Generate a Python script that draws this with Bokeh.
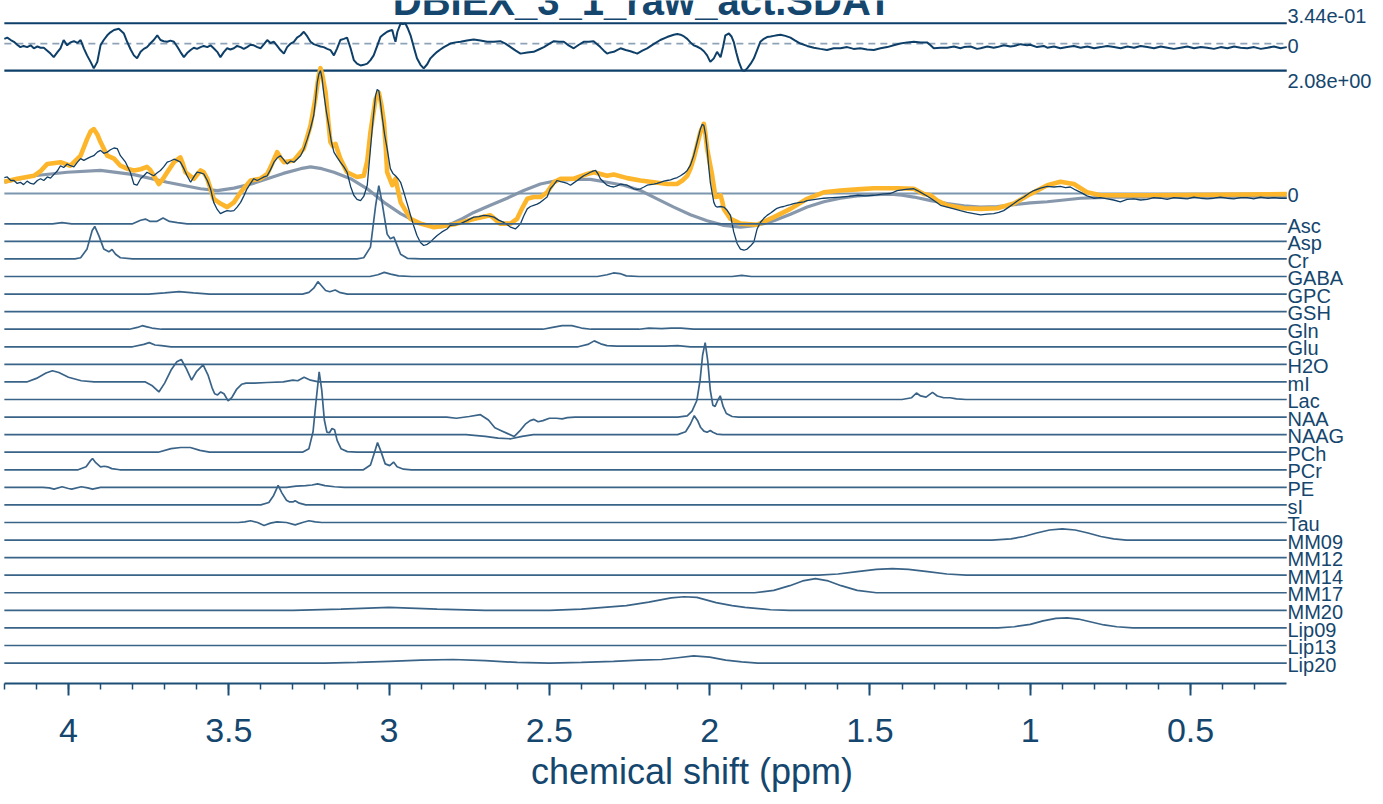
from bokeh.plotting import figure
from bokeh.models import Range1d, LinearAxis, SingleIntervalTicker
from bokeh.embed import file_html
from bokeh.resources import INLINE
from bokeh.core.properties import value

# ---------------- values ----------------
title_text = "DBIEX_3_1_raw_act.SDAT"
x_label = "chemical shift (ppm)"
tick_values = [4, 3.5, 3, 2.5, 2, 1.5, 1, 0.5]
tick_labels = ["4", "3.5", "3", "2.5", "2", "1.5", "1", "0.5"]

spec_max = 2.08       # label "2.08e+00"
res_max = 0.344       # label "3.44e-01"
res_min = -0.457

# measured spectrum (ppm, amplitude)
data = [(4.200, 0.27), (4.191, 0.28), (4.180, 0.22), (4.170, 0.22), (4.160, 0.17), (4.150, 0.19), (4.140, 0.15), (4.129, 0.21),
        (4.118, 0.17), (4.108, 0.16), (4.097, 0.22), (4.087, 0.25), (4.077, 0.22), (4.066, 0.28), (4.056, 0.26), (4.046, 0.32),
        (4.035, 0.38), (4.025, 0.47), (4.015, 0.44), (4.004, 0.50), (3.994, 0.47), (3.983, 0.45), (3.972, 0.53), (3.962, 0.59),
        (3.952, 0.56), (3.942, 0.59), (3.931, 0.62), (3.921, 0.64), (3.910, 0.70), (3.900, 0.73), (3.890, 0.68), (3.879, 0.70),
        (3.869, 0.74), (3.858, 0.77), (3.848, 0.76), (3.838, 0.64), (3.822, 0.53), (3.807, 0.36), (3.796, 0.16), (3.786, 0.14),
        (3.775, 0.25), (3.765, 0.30), (3.755, 0.36), (3.745, 0.33), (3.734, 0.30), (3.723, 0.35), (3.713, 0.39), (3.703, 0.45),
        (3.692, 0.53), (3.682, 0.55), (3.671, 0.58), (3.661, 0.56), (3.651, 0.53), (3.640, 0.42), (3.630, 0.30), (3.619, 0.19),
        (3.609, 0.28), (3.599, 0.36), (3.588, 0.35), (3.578, 0.33), (3.567, 0.22), (3.557, 0.08), (3.547, -0.15), (3.536, -0.27),
        (3.526, -0.34), (3.515, -0.31), (3.505, -0.29), (3.494, -0.30), (3.484, -0.29), (3.474, -0.23), (3.463, -0.15),
        (3.453, -0.04), (3.443, 0.08), (3.432, 0.17), (3.422, 0.25), (3.411, 0.22), (3.401, 0.25), (3.390, 0.28), (3.380, 0.30),
        (3.370, 0.40), (3.359, 0.53), (3.349, 0.60), (3.339, 0.64), (3.328, 0.57), (3.318, 0.50), (3.307, 0.55), (3.297, 0.53),
        (3.287, 0.58), (3.276, 0.64), (3.266, 0.75), (3.255, 0.92), (3.245, 1.10), (3.235, 1.32), (3.230, 1.55), (3.224, 1.88),
        (3.219, 2.02), (3.214, 2.08), (3.209, 1.95), (3.204, 1.71), (3.196, 1.40), (3.188, 1.15), (3.180, 0.88), (3.172, 0.70),
        (3.162, 0.61), (3.152, 0.53), (3.141, 0.45), (3.131, 0.36), (3.120, 0.12), (3.110, -0.03), (3.100, -0.10), (3.089, -0.12),
        (3.079, -0.05), (3.068, 0.14), (3.058, 0.76), (3.050, 1.25), (3.042, 1.66), (3.037, 1.76), (3.032, 1.74), (3.027, 1.55),
        (3.022, 1.32), (3.014, 1.00), (3.006, 0.76), (2.996, 0.42), (2.988, 0.34), (2.980, 0.30), (2.972, 0.25), (2.964, 0.19),
        (2.954, 0.02), (2.943, -0.18), (2.933, -0.37), (2.923, -0.55), (2.913, -0.71), (2.902, -0.83), (2.892, -0.88),
        (2.881, -0.86), (2.871, -0.82), (2.860, -0.76), (2.850, -0.71), (2.835, -0.65), (2.819, -0.60), (2.809, -0.54),
        (2.793, -0.53), (2.777, -0.51), (2.757, -0.46), (2.736, -0.40), (2.720, -0.39), (2.705, -0.37), (2.689, -0.38),
        (2.673, -0.40), (2.658, -0.45), (2.642, -0.49), (2.631, -0.53), (2.621, -0.57), (2.606, -0.60), (2.598, -0.56),
        (2.590, -0.51), (2.580, -0.38), (2.569, -0.26), (2.559, -0.22), (2.549, -0.20), (2.538, -0.18), (2.528, -0.15),
        (2.517, -0.10), (2.507, -0.06), (2.497, 0.08), (2.486, 0.15), (2.476, 0.22), (2.465, 0.20), (2.455, 0.19), (2.444, 0.17),
        (2.434, 0.14), (2.424, 0.18), (2.413, 0.22), (2.403, 0.26), (2.393, 0.30), (2.382, 0.33), (2.372, 0.36), (2.364, 0.38),
        (2.356, 0.39), (2.348, 0.33), (2.341, 0.25), (2.330, 0.19), (2.320, 0.14), (2.310, 0.12), (2.299, 0.11), (2.289, 0.13),
        (2.278, 0.16), (2.268, 0.15), (2.257, 0.14), (2.247, 0.11), (2.237, 0.08), (2.226, 0.07), (2.216, 0.08), (2.205, 0.11),
        (2.195, 0.14), (2.185, 0.15), (2.174, 0.16), (2.164, 0.17), (2.154, 0.19), (2.143, 0.21), (2.133, 0.22), (2.122, 0.23),
        (2.112, 0.25), (2.101, 0.27), (2.091, 0.30), (2.080, 0.34), (2.070, 0.39), (2.060, 0.48), (2.050, 0.64), (2.040, 0.85),
        (2.029, 1.09), (2.023, 1.17), (2.018, 1.15), (2.013, 1.00), (2.008, 0.76), (2.003, 0.45), (1.998, 0.19), (1.992, 0.00),
        (1.987, -0.15), (1.982, -0.21), (1.977, -0.23), (1.967, -0.22), (1.956, -0.23), (1.946, -0.28), (1.935, -0.37),
        (1.925, -0.65), (1.914, -0.85), (1.904, -0.94), (1.893, -0.96), (1.883, -0.94), (1.873, -0.89), (1.862, -0.82),
        (1.852, -0.60), (1.842, -0.49), (1.831, -0.42), (1.821, -0.37), (1.810, -0.33), (1.800, -0.29), (1.790, -0.25),
        (1.779, -0.23), (1.769, -0.22), (1.758, -0.20), (1.748, -0.19), (1.738, -0.17), (1.727, -0.16), (1.717, -0.15),
        (1.706, -0.14), (1.696, -0.12), (1.670, -0.10), (1.644, -0.08), (1.618, -0.07), (1.592, -0.06), (1.566, -0.05),
        (1.540, -0.03), (1.514, -0.04), (1.488, -0.03), (1.462, -0.01), (1.436, 0.00), (1.415, 0.05), (1.389, 0.07), (1.363, 0.08),
        (1.352, 0.05), (1.342, 0.02), (1.326, -0.03), (1.311, -0.08), (1.295, -0.14), (1.280, -0.20), (1.259, -0.23),
        (1.238, -0.26), (1.218, -0.29), (1.197, -0.32), (1.176, -0.34), (1.155, -0.36), (1.135, -0.35), (1.114, -0.34),
        (1.098, -0.32), (1.083, -0.29), (1.067, -0.23), (1.051, -0.17), (1.036, -0.11), (1.020, -0.06), (1.005, 0.00),
        (0.989, 0.05), (0.968, 0.09), (0.947, 0.12), (0.926, 0.11), (0.906, 0.12), (0.890, 0.10), (0.875, 0.11), (0.859, 0.06),
        (0.843, 0.02), (0.823, -0.04), (0.802, -0.08), (0.781, -0.07), (0.760, -0.09), (0.740, -0.11), (0.719, -0.14),
        (0.698, -0.10), (0.677, -0.09), (0.656, -0.11), (0.635, -0.10), (0.615, -0.07), (0.594, -0.08), (0.573, -0.10),
        (0.552, -0.07), (0.531, -0.08), (0.510, -0.09), (0.490, -0.06), (0.469, -0.08), (0.448, -0.09), (0.428, -0.08),
        (0.407, -0.06), (0.386, -0.08), (0.365, -0.09), (0.344, -0.07), (0.324, -0.07), (0.303, -0.09), (0.282, -0.06),
        (0.261, -0.08), (0.240, -0.07), (0.220, -0.08), (0.200, -0.08)]

# model fit
fit = [(4.200, 0.20), (4.160, 0.25), (4.108, 0.30), (4.087, 0.38), (4.066, 0.50), (4.025, 0.53), (3.994, 0.47), (3.962, 0.64),
       (3.942, 0.92), (3.931, 1.05), (3.921, 1.09), (3.910, 1.00), (3.900, 0.87), (3.879, 0.64), (3.858, 0.59), (3.838, 0.47),
       (3.817, 0.42), (3.796, 0.39), (3.775, 0.41), (3.755, 0.45), (3.745, 0.40), (3.734, 0.30), (3.718, 0.16), (3.705, 0.25),
       (3.692, 0.36), (3.671, 0.53), (3.651, 0.61), (3.643, 0.50), (3.635, 0.36), (3.609, 0.25), (3.588, 0.39), (3.578, 0.36),
       (3.567, 0.25), (3.557, 0.08), (3.547, -0.09), (3.526, -0.17), (3.505, -0.23), (3.484, -0.15), (3.463, 0.02),
       (3.432, 0.22), (3.401, 0.25), (3.380, 0.33), (3.365, 0.50), (3.349, 0.70), (3.338, 0.60), (3.328, 0.53), (3.297, 0.56),
       (3.266, 0.76), (3.245, 1.15), (3.230, 1.60), (3.220, 1.98), (3.214, 2.12), (3.208, 2.00), (3.198, 1.71), (3.190, 1.25),
       (3.183, 0.87), (3.175, 0.80), (3.167, 0.84), (3.160, 0.72), (3.152, 0.59), (3.131, 0.36), (3.100, 0.28), (3.079, 0.30),
       (3.068, 0.55), (3.058, 1.04), (3.042, 1.60), (3.032, 1.71), (3.024, 1.50), (3.016, 1.21), (3.010, 0.75), (3.006, 0.36),
       (2.990, 0.14), (2.985, 0.20), (2.980, 0.25), (2.972, 0.05), (2.964, -0.15), (2.933, -0.43), (2.902, -0.51),
       (2.860, -0.57), (2.819, -0.54), (2.788, -0.51), (2.736, -0.43), (2.684, -0.37), (2.653, -0.51), (2.621, -0.51),
       (2.601, -0.43), (2.585, -0.25), (2.569, -0.09), (2.549, -0.06), (2.528, -0.06), (2.507, 0.02), (2.486, 0.19),
       (2.465, 0.25), (2.424, 0.25), (2.382, 0.33), (2.361, 0.36), (2.341, 0.33), (2.320, 0.30), (2.299, 0.32), (2.257, 0.26),
       (2.216, 0.22), (2.174, 0.19), (2.133, 0.16), (2.102, 0.16), (2.085, 0.22), (2.070, 0.30), (2.060, 0.42), (2.050, 0.59),
       (2.040, 0.80), (2.029, 1.04), (2.018, 1.18), (2.013, 1.00), (2.008, 0.76), (1.999, 0.50), (1.992, 0.30), (1.982, -0.06),
       (1.974, -0.05), (1.966, -0.03), (1.960, -0.15), (1.956, -0.26), (1.935, -0.43), (1.904, -0.51), (1.852, -0.53),
       (1.800, -0.40), (1.748, -0.26), (1.696, -0.09), (1.644, 0.02), (1.592, 0.05), (1.540, 0.07), (1.488, 0.09),
       (1.436, 0.09), (1.415, 0.09), (1.363, 0.08), (1.332, -0.01), (1.311, -0.03), (1.290, -0.12), (1.259, -0.20),
       (1.207, -0.25), (1.155, -0.26), (1.103, -0.25), (1.051, -0.17), (1.000, -0.01), (0.947, 0.14), (0.906, 0.20),
       (0.864, 0.16), (0.823, 0.02), (0.781, -0.03), (0.739, -0.03), (0.635, -0.03), (0.428, -0.02), (0.200, -0.01)]

# fitted baseline
baseline = [(4.200, 0.19), (4.108, 0.30), (4.004, 0.36), (3.900, 0.39), (3.796, 0.32), (3.692, 0.19), (3.588, 0.08),
            (3.536, 0.05), (3.484, 0.09), (3.430, 0.16), (3.380, 0.25), (3.330, 0.34), (3.276, 0.42), (3.245, 0.45),
            (3.210, 0.42), (3.172, 0.36), (3.120, 0.25), (3.068, 0.08), (3.016, -0.15), (2.964, -0.34), (2.913, -0.49),
            (2.860, -0.57), (2.830, -0.56), (2.800, -0.50), (2.770, -0.42), (2.736, -0.32), (2.684, -0.20), (2.632, -0.08),
            (2.580, 0.05), (2.528, 0.16), (2.476, 0.22), (2.424, 0.24), (2.372, 0.24), (2.320, 0.19), (2.268, 0.14),
            (2.216, 0.05), (2.164, -0.09), (2.112, -0.23), (2.060, -0.36), (2.008, -0.46), (1.956, -0.54), (1.904, -0.57),
            (1.852, -0.54), (1.800, -0.46), (1.748, -0.35), (1.696, -0.23), (1.644, -0.14), (1.592, -0.08), (1.540, -0.04),
            (1.488, -0.02), (1.436, -0.01), (1.400, -0.03), (1.363, -0.06), (1.310, -0.12), (1.259, -0.17), (1.207, -0.21),
            (1.155, -0.23), (1.103, -0.22), (1.051, -0.19), (1.000, -0.16), (0.947, -0.14), (0.895, -0.11), (0.843, -0.08),
            (0.790, -0.07), (0.739, -0.06), (0.500, -0.06), (0.200, -0.06)]

# residual (data - fit)
residual = [(4.200, 0.08), (4.191, 0.10), (4.180, 0.06), (4.170, 0.03), (4.160, -0.02), (4.150, -0.06), (4.140, -0.04),
            (4.129, -0.06), (4.118, -0.03), (4.108, -0.08), (4.097, -0.05), (4.087, -0.07), (4.077, -0.07), (4.066, -0.12),
            (4.056, -0.17), (4.046, -0.23), (4.035, -0.15), (4.025, -0.08), (4.015, 0.06), (4.004, -0.03), (3.994, 0.02),
            (3.983, 0.04), (3.972, 0.01), (3.962, 0.06), (3.952, -0.08), (3.942, -0.20), (3.931, -0.31), (3.921, -0.42),
            (3.910, -0.31), (3.900, -0.03), (3.890, 0.06), (3.879, 0.14), (3.869, 0.19), (3.858, 0.23), (3.843, 0.25),
            (3.827, 0.17), (3.817, 0.03), (3.806, -0.10), (3.796, -0.20), (3.786, -0.25), (3.775, -0.14), (3.765, -0.09),
            (3.755, -0.06), (3.745, 0.00), (3.734, 0.06), (3.723, 0.14), (3.713, 0.06), (3.703, 0.04), (3.692, 0.03),
            (3.682, 0.05), (3.671, 0.03), (3.661, -0.05), (3.651, -0.14), (3.640, -0.23), (3.630, -0.16), (3.619, -0.11),
            (3.609, -0.07), (3.599, -0.09), (3.588, -0.06), (3.578, -0.04), (3.567, -0.06), (3.557, -0.03), (3.547, -0.08),
            (3.536, -0.14), (3.526, -0.23), (3.515, -0.14), (3.505, -0.08), (3.495, -0.10), (3.484, -0.08), (3.474, -0.04),
            (3.463, -0.06), (3.453, -0.09), (3.443, -0.06), (3.432, -0.02), (3.422, -0.03), (3.411, -0.06), (3.401, -0.08),
            (3.390, -0.01), (3.380, 0.06), (3.370, 0.01), (3.359, 0.03), (3.349, -0.04), (3.339, -0.11), (3.328, -0.17),
            (3.318, -0.06), (3.307, 0.00), (3.297, 0.03), (3.287, 0.10), (3.276, 0.14), (3.266, 0.20), (3.255, 0.12),
            (3.245, 0.03), (3.235, -0.01), (3.224, -0.03), (3.214, -0.05), (3.204, -0.06), (3.193, -0.09), (3.183, -0.11),
            (3.172, -0.20), (3.162, -0.08), (3.152, 0.06), (3.141, 0.08), (3.131, 0.10), (3.120, -0.08), (3.110, -0.28),
            (3.100, -0.34), (3.089, -0.37), (3.079, -0.36), (3.068, -0.34), (3.058, -0.28), (3.048, -0.20), (3.037, -0.04),
            (3.027, 0.11), (3.016, 0.16), (3.006, 0.20), (2.996, 0.22), (2.990, 0.23), (2.985, 0.12), (2.980, 0.03),
            (2.974, 0.20), (2.964, 0.34), (2.957, 0.33), (2.949, 0.34), (2.941, 0.25), (2.933, 0.14), (2.923, -0.06),
            (2.913, -0.25), (2.902, -0.36), (2.892, -0.42), (2.881, -0.35), (2.871, -0.25), (2.860, -0.19), (2.850, -0.14),
            (2.840, -0.10), (2.829, -0.06), (2.819, -0.03), (2.809, 0.00), (2.793, 0.02), (2.777, 0.03), (2.757, 0.05),
            (2.736, 0.07), (2.715, 0.05), (2.694, 0.03), (2.673, 0.03), (2.653, 0.04), (2.637, 0.00), (2.621, -0.06),
            (2.605, -0.12), (2.590, -0.17), (2.569, -0.15), (2.549, -0.14), (2.533, -0.10), (2.517, -0.06), (2.502, -0.01),
            (2.486, 0.04), (2.470, 0.03), (2.455, 0.03), (2.440, -0.03), (2.424, -0.08), (2.408, -0.02), (2.393, 0.03),
            (2.377, 0.03), (2.362, 0.04), (2.351, -0.01), (2.341, -0.06), (2.330, -0.12), (2.320, -0.17), (2.310, -0.15),
            (2.299, -0.14), (2.289, -0.11), (2.278, -0.08), (2.262, -0.11), (2.247, -0.13), (2.236, -0.15), (2.226, -0.17),
            (2.210, -0.12), (2.195, -0.08), (2.175, -0.01), (2.154, 0.06), (2.133, 0.11), (2.112, 0.15), (2.101, 0.16),
            (2.091, 0.15), (2.080, 0.12), (2.070, 0.08), (2.060, 0.02), (2.050, -0.03), (2.040, -0.05), (2.029, -0.08),
            (2.018, -0.13), (2.008, -0.20), (1.998, -0.31), (1.987, -0.25), (1.977, -0.14), (1.972, -0.18), (1.966, -0.23),
            (1.958, -0.05), (1.951, 0.14), (1.940, 0.17), (1.932, 0.12), (1.925, 0.03), (1.917, -0.15), (1.909, -0.31),
            (1.899, -0.45), (1.891, -0.46), (1.883, -0.42), (1.872, -0.34), (1.862, -0.25), (1.852, -0.11), (1.842, 0.03),
            (1.831, 0.08), (1.821, 0.11), (1.810, 0.12), (1.800, 0.13), (1.790, 0.14), (1.779, 0.15), (1.764, 0.13),
            (1.748, 0.10), (1.733, 0.05), (1.717, 0.00), (1.696, -0.04), (1.675, -0.07), (1.655, -0.09), (1.634, -0.11),
            (1.613, -0.08), (1.592, -0.08), (1.571, -0.06), (1.551, -0.09), (1.530, -0.08), (1.509, -0.10), (1.488, -0.11),
            (1.467, -0.08), (1.446, -0.06), (1.426, -0.03), (1.405, 0.00), (1.384, 0.02), (1.363, 0.03), (1.342, 0.02),
            (1.322, 0.02), (1.311, -0.03), (1.301, -0.08), (1.280, -0.07), (1.259, -0.07), (1.238, -0.05), (1.218, -0.08),
            (1.207, -0.06), (1.186, -0.05), (1.166, -0.09), (1.155, -0.08), (1.134, -0.05), (1.114, -0.07), (1.103, -0.06),
            (1.082, -0.03), (1.062, -0.05), (1.051, -0.04), (1.030, -0.01), (1.010, -0.03), (1.000, -0.02), (0.979, -0.06),
            (0.958, -0.04), (0.947, -0.07), (0.926, -0.05), (0.906, -0.08), (0.885, -0.06), (0.864, -0.04), (0.843, -0.07),
            (0.822, -0.05), (0.801, -0.08), (0.780, -0.06), (0.760, -0.04), (0.739, -0.06), (0.718, -0.08), (0.697, -0.05),
            (0.676, -0.07), (0.656, -0.04), (0.635, -0.06), (0.614, -0.08), (0.593, -0.05), (0.572, -0.07), (0.552, -0.09),
            (0.531, -0.07), (0.510, -0.05), (0.489, -0.08), (0.468, -0.06), (0.448, -0.07), (0.427, -0.09), (0.406, -0.06),
            (0.385, -0.08), (0.364, -0.05), (0.344, -0.07), (0.323, -0.08), (0.302, -0.06), (0.281, -0.09), (0.260, -0.07),
            (0.240, -0.05), (0.219, -0.08), (0.200, -0.06)]

# individual fitted components (ppm, amplitude)
asc = [(4.2, 0), (4.05, 0), (4.02, 0.02), (3.99, 0), (3.80, 0), (3.775, 0.06), (3.76, 0.08), (3.745, 0.04), (3.725, 0.04),
       (3.705, 0.10), (3.685, 0.04), (3.66, 0.02), (3.63, 0), (0.2, 0)]
asp = [(4.2, 0), (0.2, 0)]
cr = [(4.2, 0), (3.98, 0), (3.962, 0.02), (3.942, 0.17), (3.926, 0.48), (3.918, 0.55), (3.905, 0.39), (3.890, 0.17),
      (3.874, 0.12), (3.864, 0.16), (3.853, 0.08), (3.838, 0.02), (3.80, 0), (3.10, 0), (3.079, 0.02), (3.058, 0.20),
      (3.042, 0.90), (3.032, 1.24), (3.022, 0.96), (3.006, 0.42), (2.996, 0.34), (2.985, 0.37), (2.975, 0.23), (2.964, 0.08),
      (2.943, 0.01), (2.90, 0), (0.2, 0)]
gaba = [(4.2, 0), (3.06, 0), (3.035, 0.03), (3.015, 0.07), (2.995, 0.04), (2.97, 0.01), (2.93, 0), (2.35, 0), (2.32, 0.03),
        (2.30, 0.06), (2.28, 0.05), (2.26, 0.01), (2.22, 0), (1.93, 0), (1.90, 0.02), (1.87, 0), (0.2, 0)]
gpc = [(4.2, 0), (3.75, 0), (3.70, 0.02), (3.655, 0.04), (3.61, 0.02), (3.56, 0), (3.27, 0), (3.25, 0.03), (3.235, 0.10),
       (3.222, 0.21), (3.212, 0.15), (3.198, 0.06), (3.185, 0.04), (3.168, 0.07), (3.155, 0.03), (3.13, 0), (0.2, 0)]
gsh = [(4.2, 0), (0.2, 0)]
gln = [(4.2, 0), (3.81, 0), (3.785, 0.03), (3.77, 0.06), (3.755, 0.04), (3.74, 0.02), (3.71, 0), (2.52, 0), (2.49, 0.03),
       (2.46, 0.06), (2.43, 0.06), (2.40, 0.02), (2.37, 0), (2.22, 0), (2.19, 0.02), (2.15, 0.01), (2.12, 0.02),
       (2.09, 0.02), (2.05, 0), (0.2, 0)]
glu = [(4.2, 0), (3.80, 0), (3.765, 0.04), (3.748, 0.07), (3.73, 0.03), (3.71, 0.02), (3.68, 0), (2.41, 0), (2.38, 0.04),
       (2.36, 0.10), (2.34, 0.05), (2.32, 0.02), (2.29, 0.01), (2.14, 0.01), (2.10, 0.02), (2.06, 0), (0.2, 0)]
h2o = [(4.2, 0), (0.2, 0)]
mi = [(4.2, 0), (4.13, 0), (4.10, 0.06), (4.07, 0.15), (4.05, 0.19), (4.03, 0.16), (4.00, 0.08), (3.96, 0.02), (3.92, 0),
      (3.76, 0), (3.74, -0.06), (3.718, -0.17), (3.70, -0.02), (3.68, 0.20), (3.662, 0.34), (3.648, 0.38), (3.632, 0.22),
      (3.616, 0.03), (3.60, 0.18), (3.58, 0.29), (3.565, 0.12), (3.552, -0.10), (3.544, -0.20), (3.535, -0.22),
      (3.525, -0.17), (3.515, -0.20), (3.502, -0.32), (3.49, -0.26), (3.475, -0.12), (3.46, -0.04), (3.446, -0.02),
      (3.42, -0.02), (3.38, -0.01), (3.33, 0.0), (3.30, 0.03), (3.285, 0.02), (3.265, 0.08), (3.245, 0.03), (3.22, 0.0),
      (0.2, 0)]
lac = [(4.2, 0), (1.40, 0), (1.37, 0.03), (1.355, 0.11), (1.342, 0.06), (1.325, 0.04), (1.305, 0.12), (1.29, 0.06),
       (1.27, 0.03), (1.25, 0.03), (1.23, 0.01), (1.20, 0), (0.2, 0)]
naa = [(4.2, 0), (2.82, 0), (2.79, -0.02), (2.75, 0.01), (2.715, 0.04), (2.69, -0.05), (2.67, -0.18), (2.65, -0.23),
       (2.63, -0.28), (2.61, -0.33), (2.59, -0.22), (2.575, -0.12), (2.56, -0.06), (2.548, -0.04), (2.535, -0.08),
       (2.52, -0.06), (2.50, -0.02), (2.478, -0.02), (2.46, -0.03), (2.444, -0.01), (2.42, 0), (2.10, 0), (2.07, 0.02),
       (2.055, 0.10), (2.04, 0.28), (2.03, 0.62), (2.022, 1.05), (2.014, 1.26), (2.006, 0.95), (1.998, 0.45), (1.99, 0.20),
       (1.983, 0.18), (1.975, 0.28), (1.967, 0.36), (1.958, 0.18), (1.948, 0.06), (1.93, 0.01), (1.91, 0), (0.2, 0)]
naag = [(4.2, 0), (2.76, 0), (2.70, -0.03), (2.66, -0.06), (2.62, -0.07), (2.585, -0.03), (2.55, 0), (2.10, 0),
        (2.075, 0.05), (2.06, 0.18), (2.048, 0.32), (2.038, 0.24), (2.028, 0.12), (2.018, 0.06), (2.008, 0.04),
        (1.998, 0.07), (1.99, 0.04), (1.978, 0.01), (1.96, 0), (0.2, 0)]
pch = [(4.2, 0), (3.72, 0), (3.68, 0.06), (3.65, 0.08), (3.62, 0.08), (3.59, 0.03), (3.56, 0), (3.27, 0), (3.25, 0.06),
       (3.237, 0.35), (3.228, 0.85), (3.218, 1.36), (3.21, 1.05), (3.202, 0.55), (3.194, 0.34), (3.186, 0.33),
       (3.178, 0.40), (3.17, 0.38), (3.162, 0.20), (3.15, 0.06), (3.13, 0.01), (3.10, 0), (0.2, 0)]
pcr = [(4.2, 0), (3.97, 0), (3.945, 0.05), (3.932, 0.15), (3.925, 0.19), (3.915, 0.12), (3.90, 0.05), (3.888, 0.06),
       (3.878, 0.05), (3.865, 0.02), (3.84, 0), (3.08, 0), (3.058, 0.08), (3.045, 0.30), (3.036, 0.46), (3.026, 0.32),
       (3.012, 0.10), (2.998, 0.07), (2.986, 0.13), (2.975, 0.05), (2.955, 0.01), (2.93, 0), (0.2, 0)]
pe = [(4.2, 0), (4.08, 0), (4.06, -0.01), (4.045, -0.03), (4.02, 0.01), (4.00, -0.02), (3.99, -0.03), (3.96, 0.01),
      (3.94, -0.01), (3.925, -0.03), (3.90, 0.0), (3.86, 0), (3.32, 0), (3.29, 0.02), (3.26, 0.03), (3.24, 0.04),
      (3.223, 0.06), (3.20, 0.03), (3.17, 0.01), (3.14, 0), (0.2, 0)]
si = [(4.2, 0), (3.40, 0), (3.375, 0.04), (3.36, 0.16), (3.346, 0.33), (3.334, 0.20), (3.32, 0.08), (3.31, 0.05),
      (3.30, 0.05), (3.293, 0.07), (3.28, 0.03), (3.26, 0), (0.2, 0)]
tau = [(4.2, 0), (3.47, 0), (3.45, 0.01), (3.432, 0.03), (3.41, 0.0), (3.39, -0.05), (3.37, -0.01), (3.35, 0.01),
       (3.32, 0), (3.293, -0.04), (3.27, 0.0), (3.25, 0.03), (3.23, 0.01), (3.21, 0), (0.2, 0)]
mm09 = [(4.2, 0), (1.12, 0), (1.06, 0.02), (1.02, 0.06), (0.98, 0.12), (0.94, 0.17), (0.90, 0.19), (0.86, 0.17),
        (0.82, 0.12), (0.78, 0.06), (0.74, 0.02), (0.70, 0), (0.2, 0)]
mm12 = [(4.2, 0), (0.2, 0)]
mm14 = [(4.2, 0), (1.66, 0), (1.60, 0.02), (1.54, 0.06), (1.48, 0.10), (1.43, 0.11), (1.38, 0.10), (1.32, 0.06),
        (1.26, 0.02), (1.20, 0), (0.2, 0)]
mm17 = [(4.2, 0), (1.86, 0), (1.80, 0.04), (1.75, 0.12), (1.71, 0.20), (1.67, 0.24), (1.63, 0.20), (1.59, 0.12),
        (1.54, 0.04), (1.48, 0), (0.2, 0)]
mm20 = [(4.2, 0), (3.30, 0), (3.15, 0.02), (3.00, 0.05), (2.85, 0.02), (2.70, 0), (2.50, 0), (2.40, 0.02), (2.33, 0.05),
        (2.26, 0.08), (2.19, 0.14), (2.12, 0.21), (2.08, 0.23), (2.04, 0.22), (1.98, 0.13), (1.93, 0.08), (1.89, 0.05),
        (1.81, 0.01), (1.75, 0), (0.2, 0)]
lip09 = [(4.2, 0), (1.10, 0), (1.05, 0.02), (1.00, 0.06), (0.96, 0.12), (0.92, 0.16), (0.885, 0.17), (0.85, 0.15),
         (0.81, 0.10), (0.77, 0.05), (0.73, 0.02), (0.68, 0), (0.2, 0)]
lip13 = [(4.2, 0), (0.2, 0)]
lip20 = [(4.2, 0), (3.20, 0), (3.10, 0.01), (3.00, 0.03), (2.90, 0.05), (2.80, 0.06), (2.70, 0.04), (2.60, 0.01),
         (2.50, 0), (2.40, 0.01), (2.30, 0.03), (2.22, 0.05), (2.15, 0.06), (2.10, 0.09), (2.05, 0.12), (2.00, 0.10),
         (1.95, 0.05), (1.90, 0.02), (1.85, 0), (0.2, 0)]

component_names = ["Asc", "Asp", "Cr", "GABA", "GPC", "GSH", "Gln", "Glu", "H2O", "mI", "Lac", "NAA", "NAAG",
                   "PCh", "PCr", "PE", "sI", "Tau", "MM09", "MM12", "MM14", "MM17", "MM20", "Lip09", "Lip13", "Lip20"]
component_traces = [asc, asp, cr, gaba, gpc, gsh, gln, glu, h2o, mi, lac, naa, naag,
                    pch, pcr, pe, si, tau, mm09, mm12, mm14, mm17, mm20, lip09, lip13, lip20]

# ---------------- layout / style ----------------
W, H = 1383, 804
BOTTOM = 121                      # space for the ppm axis
PX_PER_PPM = 320.6
PX_PER_UNIT = 59.1
ZERO_PX = 193                     # screen row of the spectrum zero line
X_LEFT = 4.212
X_RIGHT = X_LEFT - W / PX_PER_PPM
Y_TOP = ZERO_PX / PX_PER_UNIT
Y_BOT = -((H - BOTTOM) - ZERO_PX) / PX_PER_UNIT

FIRST_ROW = -30.3 / PX_PER_UNIT  # first component offset
ROW_STEP = 17.57 / PX_PER_UNIT   # spacing between component rows

NAVY = "#0e3f68"
TEXT = "#14466e"
COMP = "#3a6388"
FONT = "Liberation Sans"

p = figure(width=W, height=H, x_range=Range1d(X_LEFT, X_RIGHT), y_range=Range1d(Y_BOT, Y_TOP),
           output_backend="svg", toolbar_location=None, x_axis_location=None, y_axis_location=None,
           min_border_left=0, min_border_right=0, min_border_top=0, min_border_bottom=BOTTOM)
p.outline_line_color = None
p.background_fill_color = "white"
p.border_fill_color = "white"
p.grid.visible = False


def xs(series):
    return [pt[0] for pt in series]


def ys(series, off=0.0):
    return [pt[1] + off for pt in series]


# residual panel
res_zero = spec_max - res_min
res_top = res_zero + res_max
p.line([4.2, 0.2], [res_top, res_top], line_color=NAVY, line_width=2.2)
p.line([4.2, 0.2], [spec_max, spec_max], line_color=NAVY, line_width=2.2)
p.line([4.2, 0.2], [res_zero, res_zero], line_color="#8ea3b8", line_width=1.8, line_dash="7 5")
p.line(xs(residual), ys(residual, res_zero), line_color=NAVY, line_width=2)

# main spectrum
p.line([4.2, 0.2], [0, 0], line_color="#7d97b0", line_width=2)
p.line(xs(baseline), ys(baseline), line_color="#8192a8", line_width=3.2, line_alpha=0.95)
p.line(xs(fit), ys(fit), line_color="#fdb62b", line_width=4.6, line_join="round")
p.line(xs(data), ys(data), line_color="#123f66", line_width=1.3)

# component traces
for k, tr in enumerate(component_traces):
    off = FIRST_ROW - k * ROW_STEP
    p.line(xs(tr), ys(tr, off), line_color=COMP, line_width=1.7)

# right-hand labels
lab_x = X_LEFT - 1287 / PX_PER_PPM
lab_text = ["3.44e-01", "0", "2.08e+00", "0"] + component_names
lab_y = [res_top + 7 / PX_PER_UNIT, res_zero - 2 / PX_PER_UNIT, spec_max - 10 / PX_PER_UNIT, 0 - 1 / PX_PER_UNIT]
lab_y += [FIRST_ROW - k * ROW_STEP - 1.7 / PX_PER_UNIT for k in range(len(component_names))]
p.text(x=[lab_x] * len(lab_text), y=lab_y, text=lab_text, text_font=value(FONT), text_font_size="20px",
       text_color=TEXT, text_baseline="middle", text_align="left")

# title (partly above the page, as in the reference)
p.text(x=[X_LEFT - 642 / PX_PER_PPM], y=[Y_TOP + 0 / PX_PER_UNIT], text=[title_text], text_font=value(FONT),
       text_font_size="40px", text_font_style="bold", text_color=TEXT, text_align="center",
       text_baseline="alphabetic")

# ppm axis
ax = LinearAxis(bounds=(0.2, 4.2), ticker=SingleIntervalTicker(interval=0.5, num_minor_ticks=5))
ax.major_label_overrides = {v: t for v, t in zip(tick_values, tick_labels)}
ax.axis_line_color = "#1d4e76"
ax.axis_line_width = 2
ax.major_tick_line_color = "#1d4e76"
ax.major_tick_line_width = 2
ax.minor_tick_line_color = "#1d4e76"
ax.minor_tick_line_width = 1.5
ax.major_tick_in = 0
ax.major_tick_out = 12
ax.minor_tick_in = 0
ax.minor_tick_out = 6
ax.major_label_text_font = FONT
ax.major_label_text_font_size = "34px"
ax.major_label_text_color = TEXT
ax.major_label_standoff = 23
ax.axis_label = x_label
ax.axis_label_text_font = FONT
ax.axis_label_text_font_size = "36px"
ax.axis_label_text_font_style = "normal"
ax.axis_label_text_color = TEXT
ax.axis_label_standoff = 6
p.add_layout(ax, "below")

open("out.html", "w").write(file_html(p, INLINE))
